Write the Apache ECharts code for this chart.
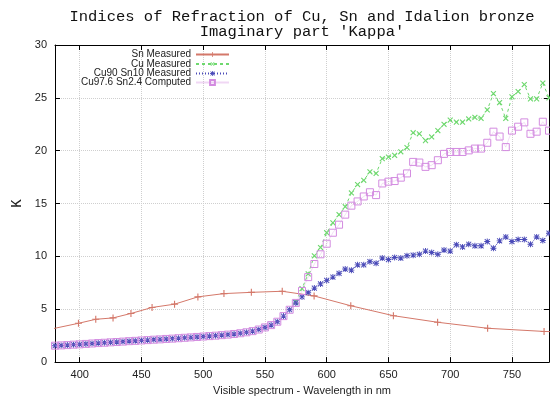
<!DOCTYPE html>
<html>
<head>
<meta charset="utf-8">
<script src="https://cdn.jsdelivr.net/npm/echarts@6/dist/echarts.min.js"></script>
<style>
  html, body { margin: 0; padding: 0; background: #fff; }
  #main { width: 550px; height: 401px; }
</style>
</head>
<body>
<div id="main"></div>
<script>
// wavelength grid (nm) shared by Cu90Sn10 and the computed alloy
var wave = [380, 385, 390, 395, 400, 405, 410, 415, 420, 425, 430, 435, 440, 445, 450, 455, 460, 465, 470, 475,
    480, 485, 490, 495, 500, 505, 510, 515, 520, 525, 530, 535, 540, 545, 550, 555, 560, 565, 570, 575,
    580, 585, 590, 595, 600, 605, 610, 615, 620, 625, 630, 635, 640, 645, 650, 655, 660, 665, 670, 675,
    680, 685, 690, 695, 700, 705, 710, 715, 720, 725, 730, 735, 740, 745, 750, 755, 760, 765, 770, 775, 780];

var cu90K = [1.55, 1.58, 1.61, 1.65, 1.68, 1.72, 1.76, 1.80, 1.83, 1.87, 1.90, 1.94, 1.98, 2.01, 2.05, 2.08, 2.12, 2.15, 2.19, 2.22,
    2.26, 2.30, 2.34, 2.38, 2.42, 2.46, 2.50, 2.55, 2.60, 2.66, 2.73, 2.82, 2.93, 3.08, 3.28, 3.50, 3.82, 4.35, 4.95, 5.60,
    6.17, 6.57, 7.00, 7.40, 7.73, 8.04, 8.40, 8.80, 8.70, 9.20, 9.20, 9.50, 9.35, 9.84, 9.70, 9.90, 9.84, 10.06, 10.12, 10.20,
    10.50, 10.37, 10.20, 10.60, 10.50, 11.10, 10.90, 11.15, 11.00, 11.00, 11.40, 10.78, 11.47, 11.84, 11.40, 11.60, 11.60, 11.15, 11.84, 11.50, 12.20];

var cu976K = [1.55, 1.58, 1.61, 1.65, 1.68, 1.72, 1.76, 1.80, 1.83, 1.87, 1.90, 1.94, 1.98, 2.01, 2.05, 2.08, 2.12, 2.15, 2.19, 2.22,
    2.26, 2.30, 2.34, 2.38, 2.42, 2.46, 2.50, 2.55, 2.60, 2.66, 2.73, 2.82, 2.93, 3.08, 3.28, 3.50, 3.82, 4.35, 4.95, 5.60,
    6.73, 8.04, 9.28, 10.20, 11.20, 12.24, 13.00, 13.95, 14.80, 15.20, 15.67, 16.07, 15.80, 16.90, 17.07, 17.13, 17.45, 17.85, 18.94, 18.88,
    18.47, 18.63, 19.10, 19.70, 19.88, 19.88, 19.88, 20.03, 20.20, 20.20, 20.75, 21.80, 21.34, 20.34, 21.90, 22.27, 22.68, 21.60, 21.80, 22.74, 21.90];

// Cu is only visible from 575 nm on (hidden below the alloy curves before)
var cuWave = [575, 580, 585, 590, 595, 600, 605, 610, 615, 620, 625, 630, 635, 640, 645, 650, 655, 660, 665, 670, 675,
    680, 685, 690, 695, 700, 705, 710, 715, 720, 725, 730, 735, 740, 745, 750, 755, 760, 765, 770, 775, 780];
var cuK = [5.70, 6.95, 8.35, 10.06, 10.84, 12.24, 13.18, 13.95, 14.70, 16.00, 16.80, 17.20, 18.00, 17.85, 19.25, 19.40, 19.56, 19.90, 20.30, 21.70, 21.60,
    20.96, 21.30, 21.90, 22.50, 22.90, 22.70, 22.70, 23.00, 23.15, 23.06, 23.86, 25.40, 24.55, 23.06, 25.10, 25.60, 26.26, 24.90, 24.90, 26.40, 25.00];

// Sn measured at 0.1 eV steps (first and last point lie just outside the plot)
var snWave = [375.8, 399, 413, 427, 441.5, 458.6, 476.8, 495.7, 516.8, 539, 564, 589.8, 619.5, 654, 689.8, 730.3, 776, 826.7];
var snK = [3.10, 3.67, 4.05, 4.18, 4.60, 5.17, 5.48, 6.17, 6.48, 6.60, 6.70, 6.26, 5.33, 4.39, 3.77, 3.20, 2.90, 2.72];

var names = ['Sn Measured', 'Cu Measured', 'Cu90 Sn10 Measured', 'Cu97.6 Sn2.4 Computed'];
var colors = ['#d4786a', '#6ed86e', '#4a4ab8', '#d38be0'];
var legendTops = [49.5, 59, 68.5, 77.5];

function pairs(xs, ys) {
    return xs.map(function (x, i) { return [x, ys[i]]; });
}

var plusPath = 'path://M4.2,0h1.6v4.2h4.2v1.6h-4.2v4.2h-1.6v-4.2h-4.2v-1.6h4.2z';
var starPath = 'path://M4.2,0h1.6v4.2h4.2v1.6h-4.2v4.2h-1.6v-4.2h-4.2v-1.6h4.2z ' +
    'M1.4,0.3L5,3.9L8.6,0.3L9.7,1.4L6.1,5L9.7,8.6L8.6,9.7L5,6.1L1.4,9.7L0.3,8.6L3.9,5L0.3,1.4z';

var sans = 'Liberation Sans';
var mono = 'Liberation Mono';

var myChart = echarts.init(document.getElementById('main'), null, { renderer: 'canvas' });

var tickStyle = { show: true, inside: true, length: 5, lineStyle: { color: '#000', width: 1 } };

myChart.setOption({
    animation: false,
    backgroundColor: '#fff',
    title: {
        text: "Indices of Refraction of Cu, Sn and Idalion bronze\nImaginary part 'Kappa'",
        left: 297,
        top: 4,
        textAlign: 'center',
        textStyle: { fontFamily: mono, fontSize: 15.5, fontWeight: 'normal', color: '#111', lineHeight: 15.5, align: 'center' }
    },
    legend: names.map(function (n, i) {
        return {
            data: [n],
            orient: 'horizontal',
            align: 'right',
            right: 320,
            top: legendTops[i],
            padding: 0,
            itemWidth: 33,
            itemHeight: 6,
            itemGap: 0,
            selectedMode: false,
            textStyle: { fontFamily: sans, fontSize: 10, color: '#222' }
        };
    }),
    grid: { left: 55, right: 1, top: 45, bottom: 35, containLabel: false },
    xAxis: [{
        type: 'value',
        min: 380,
        max: 780,
        splitNumber: 8,
        name: 'Visible spectrum - Wavelength in nm',
        nameLocation: 'middle',
        nameGap: 22,
        nameTextStyle: { fontFamily: sans, fontSize: 11, color: '#222' },
        axisLine: { show: true, onZero: false, lineStyle: { color: '#000', width: 1 } },
        axisTick: tickStyle,
        axisLabel: { showMinLabel: false, showMaxLabel: false, margin: 7, fontFamily: sans, fontSize: 11, color: '#222' },
        splitLine: { show: true, lineStyle: { color: '#cfcfcf', type: 'dotted', width: 1 } }
    }, {
        type: 'value',
        position: 'top',
        min: 380,
        max: 780,
        splitNumber: 8,
        axisLine: { show: true, onZero: false, lineStyle: { color: '#000', width: 1 } },
        axisTick: tickStyle,
        axisLabel: { show: false },
        splitLine: { show: false }
    }],
    yAxis: [{
        type: 'value',
        min: 0,
        max: 30,
        interval: 5,
        name: 'K',
        nameLocation: 'middle',
        nameGap: 27,
        nameRotate: 90,
        nameTextStyle: { fontFamily: mono, fontSize: 14, color: '#222' },
        axisLine: { show: true, onZero: false, lineStyle: { color: '#000', width: 1 } },
        axisTick: tickStyle,
        axisLabel: { margin: 8, fontFamily: sans, fontSize: 11, color: '#222' },
        splitLine: { show: true, lineStyle: { color: '#cfcfcf', type: 'dotted', width: 1 } }
    }, {
        type: 'value',
        position: 'right',
        min: 0,
        max: 30,
        interval: 5,
        axisLine: { show: true, onZero: false, lineStyle: { color: '#000', width: 1 } },
        axisTick: tickStyle,
        axisLabel: { show: false },
        splitLine: { show: false }
    }],
    series: [{
        name: names[0],
        type: 'line',
        data: pairs(snWave, snK),
        symbol: plusPath,
        symbolSize: 7,
        color: colors[0],
        itemStyle: { color: colors[0] },
        lineStyle: { color: colors[0], width: 1 },
        clip: true,
        z: 2
    }, {
        name: names[1],
        type: 'line',
        data: pairs(cuWave, cuK),
        symbol: plusPath,
        symbolRotate: 45,
        symbolSize: 7,
        color: colors[1],
        itemStyle: { color: colors[1] },
        lineStyle: { color: colors[1], width: 1, type: [3, 3] },
        clip: true,
        z: 3
    }, {
        name: names[2],
        type: 'line',
        data: pairs(wave, cu90K),
        symbol: starPath,
        symbolSize: 6,
        color: colors[2],
        itemStyle: { color: colors[2] },
        lineStyle: { color: colors[2], width: 1, type: [1, 2] },
        clip: true,
        z: 4
    }, {
        name: names[3],
        type: 'line',
        data: pairs(wave, cu976K),
        symbol: 'rect',
        symbolSize: 7,
        color: colors[3],
        itemStyle: { color: 'rgba(0,0,0,0)', borderColor: colors[3], borderWidth: 1 },
        lineStyle: { color: colors[3], width: 0.8, opacity: 0.35 },
        clip: true,
        z: 5
    }]
});
</script>
</body>
</html>
